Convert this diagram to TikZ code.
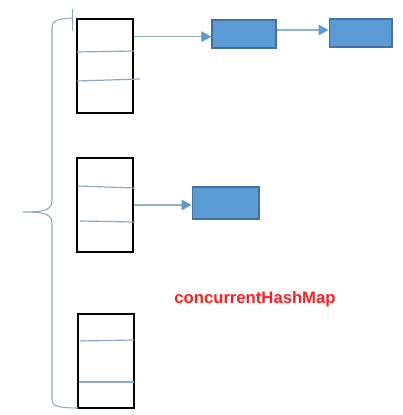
\documentclass[tikz,border=0pt]{standalone}
\usepackage{fontspec}
\setmainfont{Liberation Sans}
\usetikzlibrary{arrows.meta}

\definecolor{boxblue}{HTML}{5B9BD5}
\definecolor{boxedge}{HTML}{41719C}
\definecolor{linkgrey}{HTML}{8FB3CF}
\definecolor{bracegrey}{HTML}{8DA9B5}
\definecolor{labelred}{HTML}{FF1F1F}

\tikzset{
  segment/.style={rectangle,draw=black,line width=1.5pt,minimum width=42pt,minimum height=70.5pt,inner sep=0pt},
  entry/.style={rectangle,draw=boxedge,fill=boxblue,line width=1pt,inner sep=0pt},
  link/.style={draw=linkgrey,line width=0.9pt,-{Triangle[length=7.5pt,width=8pt,color=boxblue]}},
  slot/.style={draw=linkgrey!80!gray,line width=0.9pt}
}

\begin{document}
\begin{tikzpicture}[x=0.75pt,y=-0.75pt]
      \useasboundingbox (0,0) rectangle (403,415);

      \node[segment] (s1) at (105,66){};
      \node[segment] (s2) at (105,205){};
      \node[segment] (s3) at (106,361){};

      \node[entry,minimum width=48pt,minimum height=21pt] (e1) at (244,34){};
      \node[entry,minimum width=47pt,minimum height=21pt] (e2) at (360.5,33){};
      \node[entry,minimum width=50pt,minimum height=24pt] (e3) at (225.5,203){};

      % slots inside the segments
      \draw[slot] (77,52) -- (134,51);
      \draw[slot] (77,81) -- (140,79);
      \draw[slot] (78,186) -- (135,188);
      \draw[slot] (80,221) -- (135,222);
      \draw[slot] (80,341) -- (134,340);
      \draw[slot] (79,382) -- (134,382);

      \draw[link] ([yshift=-2pt]e1.west -| s1.east) -- ([yshift=-2pt]e1.west);
      \draw[link] ([yshift=3pt]e1.east) -- ([yshift=3pt]e1.east -| e2.west);
      \draw[link] (s2.east) -- (s2.east -| e3.west);

      % brace
      \draw[bracegrey,line width=0.8pt] (72,18) .. controls (58,19) and (52,20) .. (52,28) -- (52,200)
        .. controls (52,210) and (45,212) .. (23,212) .. controls (45,212) and (52,214) .. (52,224)
        -- (52,400) .. controls (52,406) and (58,408) .. (78,408);
      \draw[bracegrey,line width=0.6pt] (72,9) -- (72,31);

      \node[text=labelred,font=\bfseries\fontsize{12.5}{14}\selectfont] (name) at (255,299){concurrentHashMap};

\end{tikzpicture}
\end{document}
